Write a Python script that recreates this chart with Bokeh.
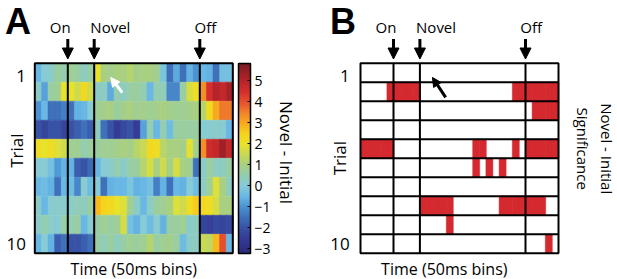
import numpy as np
from bokeh.plotting import figure
from bokeh.models import (LinearColorMapper, ColorBar, FixedTicker, Label, Arrow,
                          NormalHead, ColumnDataSource, Range1d)
from bokeh.core.properties import value
from bokeh.layouts import row
from bokeh.embed import file_html
from bokeh.resources import INLINE

# ---------------- data ----------------
trials = list(range(1, 11))
n_bins = 30
event_names = ["On", "Novel", "Off"]
event_bins = [5, 9, 25]

# Novel - Initial difference, one list per trial (30 bins of 50 ms)
trial_01 = [-0.5, 0.0, 0.2, 0.7, 0.5, 0.8, 0.6, 0.3, 0.6, 2.0, 1.0, 0.9, 1.0, 1.0, 1.2,
            0.9, 1.0, 1.0, 0.8, -0.2, -1.5, -0.7, -1.5, -0.6, -1.0, -0.5, -0.6, -1.5, -0.3, -0.3]
trial_02 = [0.2, -0.8, 0.6, 0.8, 2.0, 2.0, 1.6, 2.3, 1.6, 0.2, 0.3, -0.7, 0.5, 0.3, 0.6,
            0.7, 0.5, -0.5, 0.5, 0.4, -1.2, -1.2, 0.6, 1.7, 2.2, 3.3, 4.5, 5.0, 4.8, 5.2]
trial_03 = [-1.0, -0.5, -1.5, -1.5, -1.3, -1.5, -0.6, -0.5, 0.0, 0.8, 0.9, 1.0, 0.7, 0.9, 1.0,
            0.8, 0.9, 0.8, 0.9, 1.0, 0.9, 0.8, 0.8, 0.9, 1.0, 1.2, 2.3, 3.0, 3.6, 3.6]
trial_04 = [-2.0, -2.3, -2.0, -2.0, -2.3, -2.0, -1.8, -1.5, -1.8, 0.3, -1.5, -2.0, -2.5, -2.2, -2.0,
            -2.5, -0.8, 0.5, -0.5, 0.5, -0.4, 0.6, 0.7, 0.6, 0.7, 0.1, 0.1, 0.2, 0.1, -0.5]
trial_05 = [2.2, 2.0, 2.2, 1.8, 1.6, 0.8, 0.8, 0.5, 0.7, 0.7, 0.8, 0.8, 0.9, 1.0, 0.9,
            1.3, 1.5, 2.3, 2.2, 1.3, 1.0, 1.0, 0.9, 1.9, 0.9, 3.3, 4.6, 4.8, 5.3, 4.8]
trial_06 = [0.0, 0.1, -0.3, -0.9, -0.6, -0.6, -1.8, -2.0, -1.6, -0.5, 0.0, 0.2, 0.5, 0.2, 0.6,
            0.7, 1.2, 1.7, 1.0, 1.6, 0.9, 1.7, 1.0, 0.8, -1.5, 0.2, 0.7, 0.3, 0.3, 0.6]
trial_07 = [-0.5, -0.4, -0.6, -1.5, -0.5, -0.4, -1.2, 0.1, -0.4, 0.0, -1.5, -0.6, -0.5, -0.5, -0.2,
            -0.6, -0.5, -0.3, -1.3, -0.6, -1.5, -0.5, -0.6, 0.0, -0.4, 0.2, 0.8, 1.8, 1.0, 0.3]
trial_08 = [0.2, -0.5, 0.1, 0.2, 0.1, 0.2, 0.4, 0.3, 0.6, 2.8, 2.5, 2.3, 2.0, 1.8, 0.8,
            0.2, -0.5, 0.2, 0.7, 0.8, 1.0, 1.8, 1.6, 2.2, 2.6, 2.3, 2.2, 1.7, 1.0, 1.0]
trial_09 = [0.2, 0.5, 0.2, 0.0, 0.6, 0.5, 0.6, -0.5, 0.1, 0.6, 0.8, 0.6, 0.8, 1.7, -0.3,
            -0.6, 0.0, -0.4, 0.1, -0.6, 0.6, 0.7, 0.8, 0.2, 0.3, -2.3, -2.4, -2.2, -2.3, -2.2]
trial_10 = [-0.5, 0.0, -0.6, -1.8, -1.5, -2.0, -2.0, -1.8, -1.5, 0.6, 0.4, 0.7, 0.3, 0.6, 0.8,
            0.7, 0.8, 1.2, 0.6, 0.8, 0.9, 0.6, -0.4, 0.2, 0.3, 1.5, 1.4, 2.8, 4.0, -0.5]
diff_by_trial = [trial_01, trial_02, trial_03, trial_04, trial_05,
                 trial_06, trial_07, trial_08, trial_09, trial_10]

# significant bins (0-based bin index) per trial
sig_bins = [
    [],
    [4, 5, 6, 7, 8, 23, 24, 25, 26, 27, 28, 29],
    [26, 27, 28, 29],
    [],
    [0, 1, 2, 3, 4, 17, 18, 23, 25, 26, 27, 28, 29],
    [17, 19, 21],
    [],
    [9, 10, 11, 12, 13, 21, 22, 23, 24, 25, 26, 27],
    [13],
    [28],
]

cbar_ticks = [-3, -2, -1, 0, 1, 2, 3, 4, 5]
cbar_low, cbar_high = -3.22, 5.83

# ---------------- style ----------------
FONT = "Open Sans"
PX_X = 6.6     # pixels per bin
PX_Y = 19.0    # pixels per trial row
TOP = 62.7     # pixel top of data area
H = 279

anchors = [(-3.22, "#2b2a7a"), (-2.5, "#343c96"), (-2.0, "#3853a6"), (-1.5, "#3f71bb"),
           (-1.0, "#4b93d2"), (-0.5, "#6ab9e6"), (0.0, "#86cbd6"), (0.5, "#94cdb0"),
           (1.0, "#a8d080"), (1.5, "#c8d955"), (2.0, "#e9e22a"), (2.5, "#f6d41d"),
           (3.0, "#f7a91f"), (3.5, "#f1822a"), (4.0, "#e6502b"), (4.5, "#d42f2c"),
           (5.0, "#b8232a"), (5.83, "#7a1b22")]


def hex2rgb(h):
    return [int(h[i:i + 2], 16) for i in (1, 3, 5)]


av = np.array([a[0] for a in anchors])
ac = np.array([hex2rgb(a[1]) for a in anchors], dtype=float)
palette = []
for g in np.linspace(cbar_low, cbar_high, 256):
    rgb = [np.interp(g, av, ac[:, k]) for k in range(3)]
    palette.append("#%02x%02x%02x" % tuple(int(round(v)) for v in rgb))
mapper = LinearColorMapper(palette=palette, low=cbar_low, high=cbar_high)

label_dx = [-1.15, 2.45, 0.85]   # label offsets from arrows (in bins)
LABEL_Y = -1.88
ARROW_Y0, ARROW_Y1 = -1.28, -0.22


def panel(width, left_px, tick_x, trial_lab_x, trial_lab_y, time_x, letter, letter_x):
    x0 = -left_px / PX_X
    x1 = (width - left_px) / PX_X
    y_top = -TOP / PX_Y
    y_bot = (H - TOP) / PX_Y
    p = figure(width=width, height=H, output_backend="svg", toolbar_location=None,
               x_range=Range1d(x0, x1), y_range=Range1d(y_bot, y_top),
               x_axis_location=None, y_axis_location=None,
               min_border=0, min_border_left=0, min_border_right=0,
               min_border_top=0, min_border_bottom=0)
    p.grid.visible = False
    p.outline_line_color = None
    p.background_fill_color = "white"
    p.border_fill_color = "white"

    # trial tick labels (first and last)
    tl = ColumnDataSource(dict(x=[tick_x, tick_x],
                               y=[trials[0] - 0.5 + 0.15, trials[-1] - 0.5],
                               t=[str(trials[0]), str(trials[-1])]))
    p.text(x="x", y="y", text="t", source=tl, text_align="right", text_baseline="middle",
           text_font=value(FONT), text_font_size="17px", text_color="black")
    p.add_layout(Label(x=trial_lab_x, y=trial_lab_y, text="Trial", angle=np.pi / 2,
                       text_align="center", text_baseline="middle", text_font=FONT,
                       text_font_size="17px", text_color="black"))
    p.add_layout(Label(x=time_x, y=10.85, text="Time (50ms bins)", text_align="center",
                       text_baseline="middle", text_font=FONT, text_font_size="16px",
                       text_color="black"))
    p.add_layout(Label(x=letter_x, y=-2.2, text=letter, text_align="center",
                       text_baseline="middle", text_font="Liberation Sans",
                       text_font_style="bold", text_font_size="36px", text_color="black"))
    # event labels and arrows
    ev = ColumnDataSource(dict(x=[b + d for b, d in zip(event_bins, label_dx)],
                               y=[LABEL_Y] * len(event_bins), t=event_names))
    p.text(x="x", y="y", text="t", source=ev, text_align="center", text_baseline="middle",
           text_font=value(FONT), text_font_size="15px", text_color="black")
    for b in event_bins:
        p.add_layout(Arrow(end=NormalHead(size=11, fill_color="black", line_color="black"),
                           x_start=b, y_start=ARROW_Y0, x_end=b, y_end=ARROW_Y1,
                           line_width=3, line_color="black"))
    return p


def frame_lines(p, extra_rows=False):
    n = len(trials)
    xs0 = list(event_bins)
    p.segment(x0=xs0, y0=[0] * len(xs0), x1=xs0, y1=[n] * len(xs0),
              line_color="black", line_width=2)
    if extra_rows:
        rows_ = trials[:-1]
        p.segment(x0=[0] * len(rows_), y0=rows_, x1=[n_bins] * len(rows_), y1=rows_,
                  line_color="black", line_width=2)
    p.rect(x=[n_bins / 2], y=[n / 2], width=[n_bins], height=[n], fill_color=None,
           line_color="black", line_width=2)


# ---------------- panel A ----------------
xs, ys, vals = [], [], []
for t, rowvals in zip(trials, diff_by_trial):
    for c, v in enumerate(rowvals):
        xs.append(c + 0.5)
        ys.append(t - 0.5)
        vals.append(v)
srcA = ColumnDataSource(dict(x=xs, y=ys, v=vals))

pA = panel(310, 34.3, -1.35, -2.75, 4.6, 15.0, "A", -2.55)
pA.rect(x="x", y="y", width=1, height=1, source=srcA, dilate=True,
        fill_color={"field": "v", "transform": mapper},
        line_color={"field": "v", "transform": mapper}, line_width=0.5)
frame_lines(pA)
pA.add_layout(Arrow(end=NormalHead(size=9, fill_color="white", line_color="white"),
                    x_start=13.25, y_start=1.55, x_end=11.5, y_end=0.75,
                    line_width=3, line_color="white"))

cb = ColorBar(color_mapper=mapper, ticker=FixedTicker(ticks=cbar_ticks), width=12, height=190,
              padding=0, margin=0, location=(238, 26), label_standoff=4,
              major_label_text_font=FONT, major_label_text_font_size="14px",
              major_label_text_color="black", major_tick_line_color="black",
              major_tick_in=3, major_tick_out=0, bar_line_color="black", bar_line_width=1.5,
              background_fill_color=None, border_line_color=None)
pA.add_layout(cb, "center")
pA.add_layout(Label(x=38.2, y=4.7, text="Novel - Initial", angle=-np.pi / 2,
                    text_align="center", text_baseline="middle", text_font=FONT,
                    text_font_size="17px", text_color="black"))

# ---------------- panel B ----------------
bx, by = [], []
for t, bins in zip(trials, sig_bins):
    for c in bins:
        bx.append(c + 0.5)
        by.append(t - 0.5)
srcB = ColumnDataSource(dict(x=bx, y=by))

pB = panel(307, 50.0, -1.65, -3.2, 5.0, 12.7, "B", -2.65)
pB.rect(x="x", y="y", width=1, height=1, source=srcB, dilate=True,
        fill_color="#d42a2f", line_color="#d42a2f", line_width=0.5)
frame_lines(pB, extra_rows=True)
pB.add_layout(Arrow(end=NormalHead(size=9, fill_color="black", line_color="black"),
                    x_start=12.9, y_start=1.8, x_end=10.9, y_end=0.75,
                    line_width=3, line_color="black"))
pB.add_layout(Label(x=37.3, y=4.5, text="Novel - Initial", angle=-np.pi / 2,
                    text_align="center", text_baseline="middle", text_font=FONT,
                    text_font_size="15px", text_color="black"))
pB.add_layout(Label(x=33.7, y=4.5, text="Significance", angle=-np.pi / 2,
                    text_align="center", text_baseline="middle", text_font=FONT,
                    text_font_size="15px", text_color="black"))

layout = row(pA, pB, spacing=0)
open("out.html", "w").write(file_html(layout, INLINE))
